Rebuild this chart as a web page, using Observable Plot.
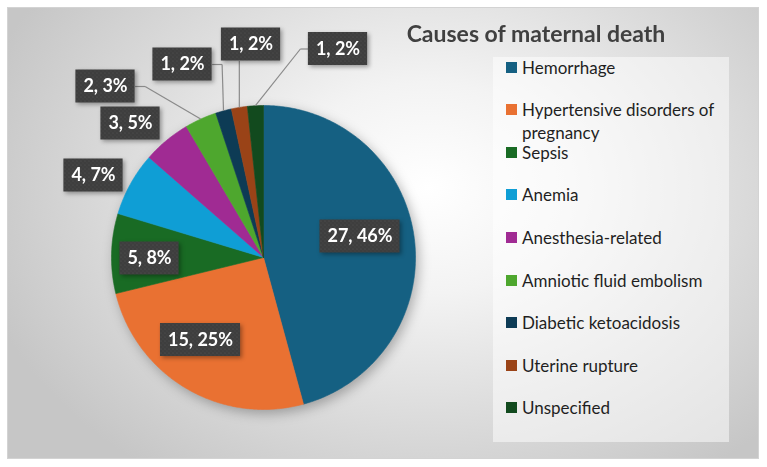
<!DOCTYPE html>
<html>
<head>
<meta charset="utf-8">
<script src="https://cdn.jsdelivr.net/npm/d3@7"></script>
<script src="https://cdn.jsdelivr.net/npm/@observablehq/plot@0.6"></script>
<style>
  body { margin: 0; background: #fff; }
  #wrap { position: relative; width: 767px; height: 467px; overflow: hidden; font-family: Lato, "Open Sans", sans-serif; }
  #panel {
    position: absolute; left: 7px; top: 7px; width: 750px; height: 450px;
    border: 1.5px solid #d3d3d3;
    background: radial-gradient(ellipse 62% 78% at 56% 40%, #ffffff 0%, #f3f3f3 30%, #dedede 62%, #c6c6c6 100%);
  }
  #legendBox {
    position: absolute; left: 493px; top: 57px; width: 236px; height: 385px;
    background: rgba(255,255,255,0.5);
  }
  #chart { position: absolute; left: 0; top: 0; }
  #title {
    position: absolute; left: 380px; width: 312px; top: 18px; text-align: center;
    font-size: 23px; font-weight: bold; color: #404040; line-height: 30px;
  }
  .item { position: absolute; left: 506px; font-size: 17px; line-height: 23px; color: #1f1f1f; }
  .item .sw { position: absolute; left: 0; top: 6px; width: 11px; height: 11px; }
  .item .tx { position: absolute; left: 16px; width: 206px; }
</style>
</head>
<body>
<div id="wrap">
  <div id="panel"></div>
  <div id="legendBox"></div>
  <div id="chart"></div>
  <div id="title">Causes of maternal death</div>
  <div id="legend"></div>
</div>
<script>
// Causes of maternal death: number of deaths per cause
const causes = [
  "Hemorrhage",
  "Hypertensive disorders of pregnancy",
  "Sepsis",
  "Anemia",
  "Anesthesia-related",
  "Amniotic fluid embolism",
  "Diabetic ketoacidosis",
  "Uterine rupture",
  "Unspecified"
];
const deaths = [27, 15, 5, 4, 3, 2, 1, 1, 1];
const colors = ["#156082", "#E97132", "#196B24", "#0F9ED5", "#A02B93", "#4EA72E", "#0D3B55", "#9A4317", "#124A1E"];

// Layout: pie geometry and label placement (offsets from the pie centre, px)
const W = 767, H = 467;
const cx = 263, cy = 257, R = 152;
const labelOffsets = [
  [96.5, -21], [-63, 82.5], [-114, 1], [-170, -82], [-133, -134],
  [-158, -171], [-81, -193], [-12.5, -213], [74.5, -208.5]
];
const labelFont = "bold 18px Lato";
const boxH = 33, boxPad = 7.5;

const total = d3.sum(deaths);
const arcs = d3.pie().sort(null).value(d => d)(deaths);
const polar = (a, r) => [cx + r * Math.sin(a), cy - r * Math.cos(a)];

// One closed polygon per slice, in chart coordinates
const slices = arcs.map((a, i) => {
  const n = Math.max(2, Math.ceil((a.endAngle - a.startAngle) / (Math.PI / 360)));
  const pts = [{x: cx, y: cy}];
  for (let k = 0; k <= n; k++) {
    const t = a.startAngle + (a.endAngle - a.startAngle) * k / n;
    const [x, y] = polar(t, R);
    pts.push({x, y});
  }
  pts.push({x: cx, y: cy});
  return {cause: causes[i], color: colors[i], pts};
});

// Data labels: "value, percent"
const ctx = document.createElement("canvas").getContext("2d");
ctx.font = labelFont;
const labels = arcs.map((a, i) => {
  const text = `${deaths[i]}, ${Math.round(deaths[i] / total * 100)}%`;
  const w = ctx.measureText(text).width + 2 * boxPad;
  const x = cx + labelOffsets[i][0], y = cy + labelOffsets[i][1];
  const mid = (a.startAngle + a.endAngle) / 2;
  const [ax, ay] = polar(mid, R);
  const outside = Math.hypot(labelOffsets[i][0], labelOffsets[i][1]) > R;
  return {cause: causes[i], text, x, y, x1: x - w / 2, x2: x + w / 2, y1: y - boxH / 2, y2: y + boxH / 2, ax, ay, outside};
});

// Leader segments for outside labels set away from their slice
const leaders = [];
labels.forEach(l => {
  if (!l.outside) return;
  const gx = Math.max(l.x1 - l.ax, 0, l.ax - l.x2);
  const gy = Math.max(l.y1 - l.ay, 0, l.ay - l.y2);
  if (Math.hypot(gx, gy) < 15) return;
  let path;
  if (l.ax >= l.x1 && l.ax <= l.x2) {
    path = [[l.ax, l.y2], [l.ax, l.ay]];
  } else if (l.ax > l.x2) {
    path = [[l.x2, l.y], [Math.min(l.x2 + 10, l.ax), l.y], [l.ax, l.ay]];
  } else {
    path = [[l.x1, l.y], [Math.max(l.x1 - 8, l.ax), l.y], [l.ax, l.ay]];
  }
  for (let k = 1; k < path.length; k++) {
    leaders.push({x1: path[k - 1][0], y1: path[k - 1][1], x2: path[k][0], y2: path[k][1]});
  }
});

const chart = Plot.plot({
  width: W,
  height: H,
  margin: 0,
  x: {domain: [0, W], range: [0, W], axis: null},
  y: {domain: [0, H], range: [0, H], axis: null},
  style: {background: "transparent", overflow: "visible"},
  marks: [
    ...slices.map(s => Plot.line(s.pts, {x: "x", y: "y", fill: s.color, stroke: s.color, strokeWidth: 0.6})),
    Plot.link(leaders, {x1: "x1", y1: "y1", x2: "x2", y2: "y2", stroke: "#8a8a8a", strokeWidth: 1.2}),
    Plot.rect(labels, {x1: "x1", x2: "x2", y1: "y1", y2: "y2", fill: "url(#labelDots)"}),
    Plot.text(labels, {x: "x", y: "y", text: "text", fill: "white", fontSize: 18, fontWeight: "bold", fontFamily: "Lato, sans-serif"})
  ]
});

// Dotted dark fill for label boxes, and soft shadows
const svg = d3.select(chart);
const defs = svg.insert("defs", ":first-child");
const pat = defs.append("pattern").attr("id", "labelDots").attr("patternUnits", "userSpaceOnUse").attr("width", 4).attr("height", 4);
pat.append("rect").attr("width", 4).attr("height", 4).attr("fill", "#3e3e3e");
pat.append("circle").attr("cx", 1).attr("cy", 1).attr("r", 0.6).attr("fill", "#555");
pat.append("circle").attr("cx", 3).attr("cy", 3).attr("r", 0.6).attr("fill", "#4a4a4a");

const sliceGroups = svg.selectAll('g[aria-label="line"]').nodes();
if (sliceGroups.length) {
  const pie = svg.insert("g", () => sliceGroups[0]).style("filter", "drop-shadow(3px 4px 6px rgba(0,0,0,0.28))");
  sliceGroups.forEach(g => pie.node().appendChild(g));
}
svg.select('g[aria-label="rect"]').style("filter", "drop-shadow(2px 2px 2px rgba(0,0,0,0.35))");

document.getElementById("chart").appendChild(chart);

// Legend
const legend = document.getElementById("legend");
causes.forEach((c, i) => {
  const item = document.createElement("div");
  item.className = "item";
  item.style.top = (67 + 42.6 * i - 11.5) + "px";
  item.innerHTML = `<div class="sw" style="background:${colors[i]}"></div><div class="tx">${c}</div>`;
  legend.appendChild(item);
});
</script>
</body>
</html>
